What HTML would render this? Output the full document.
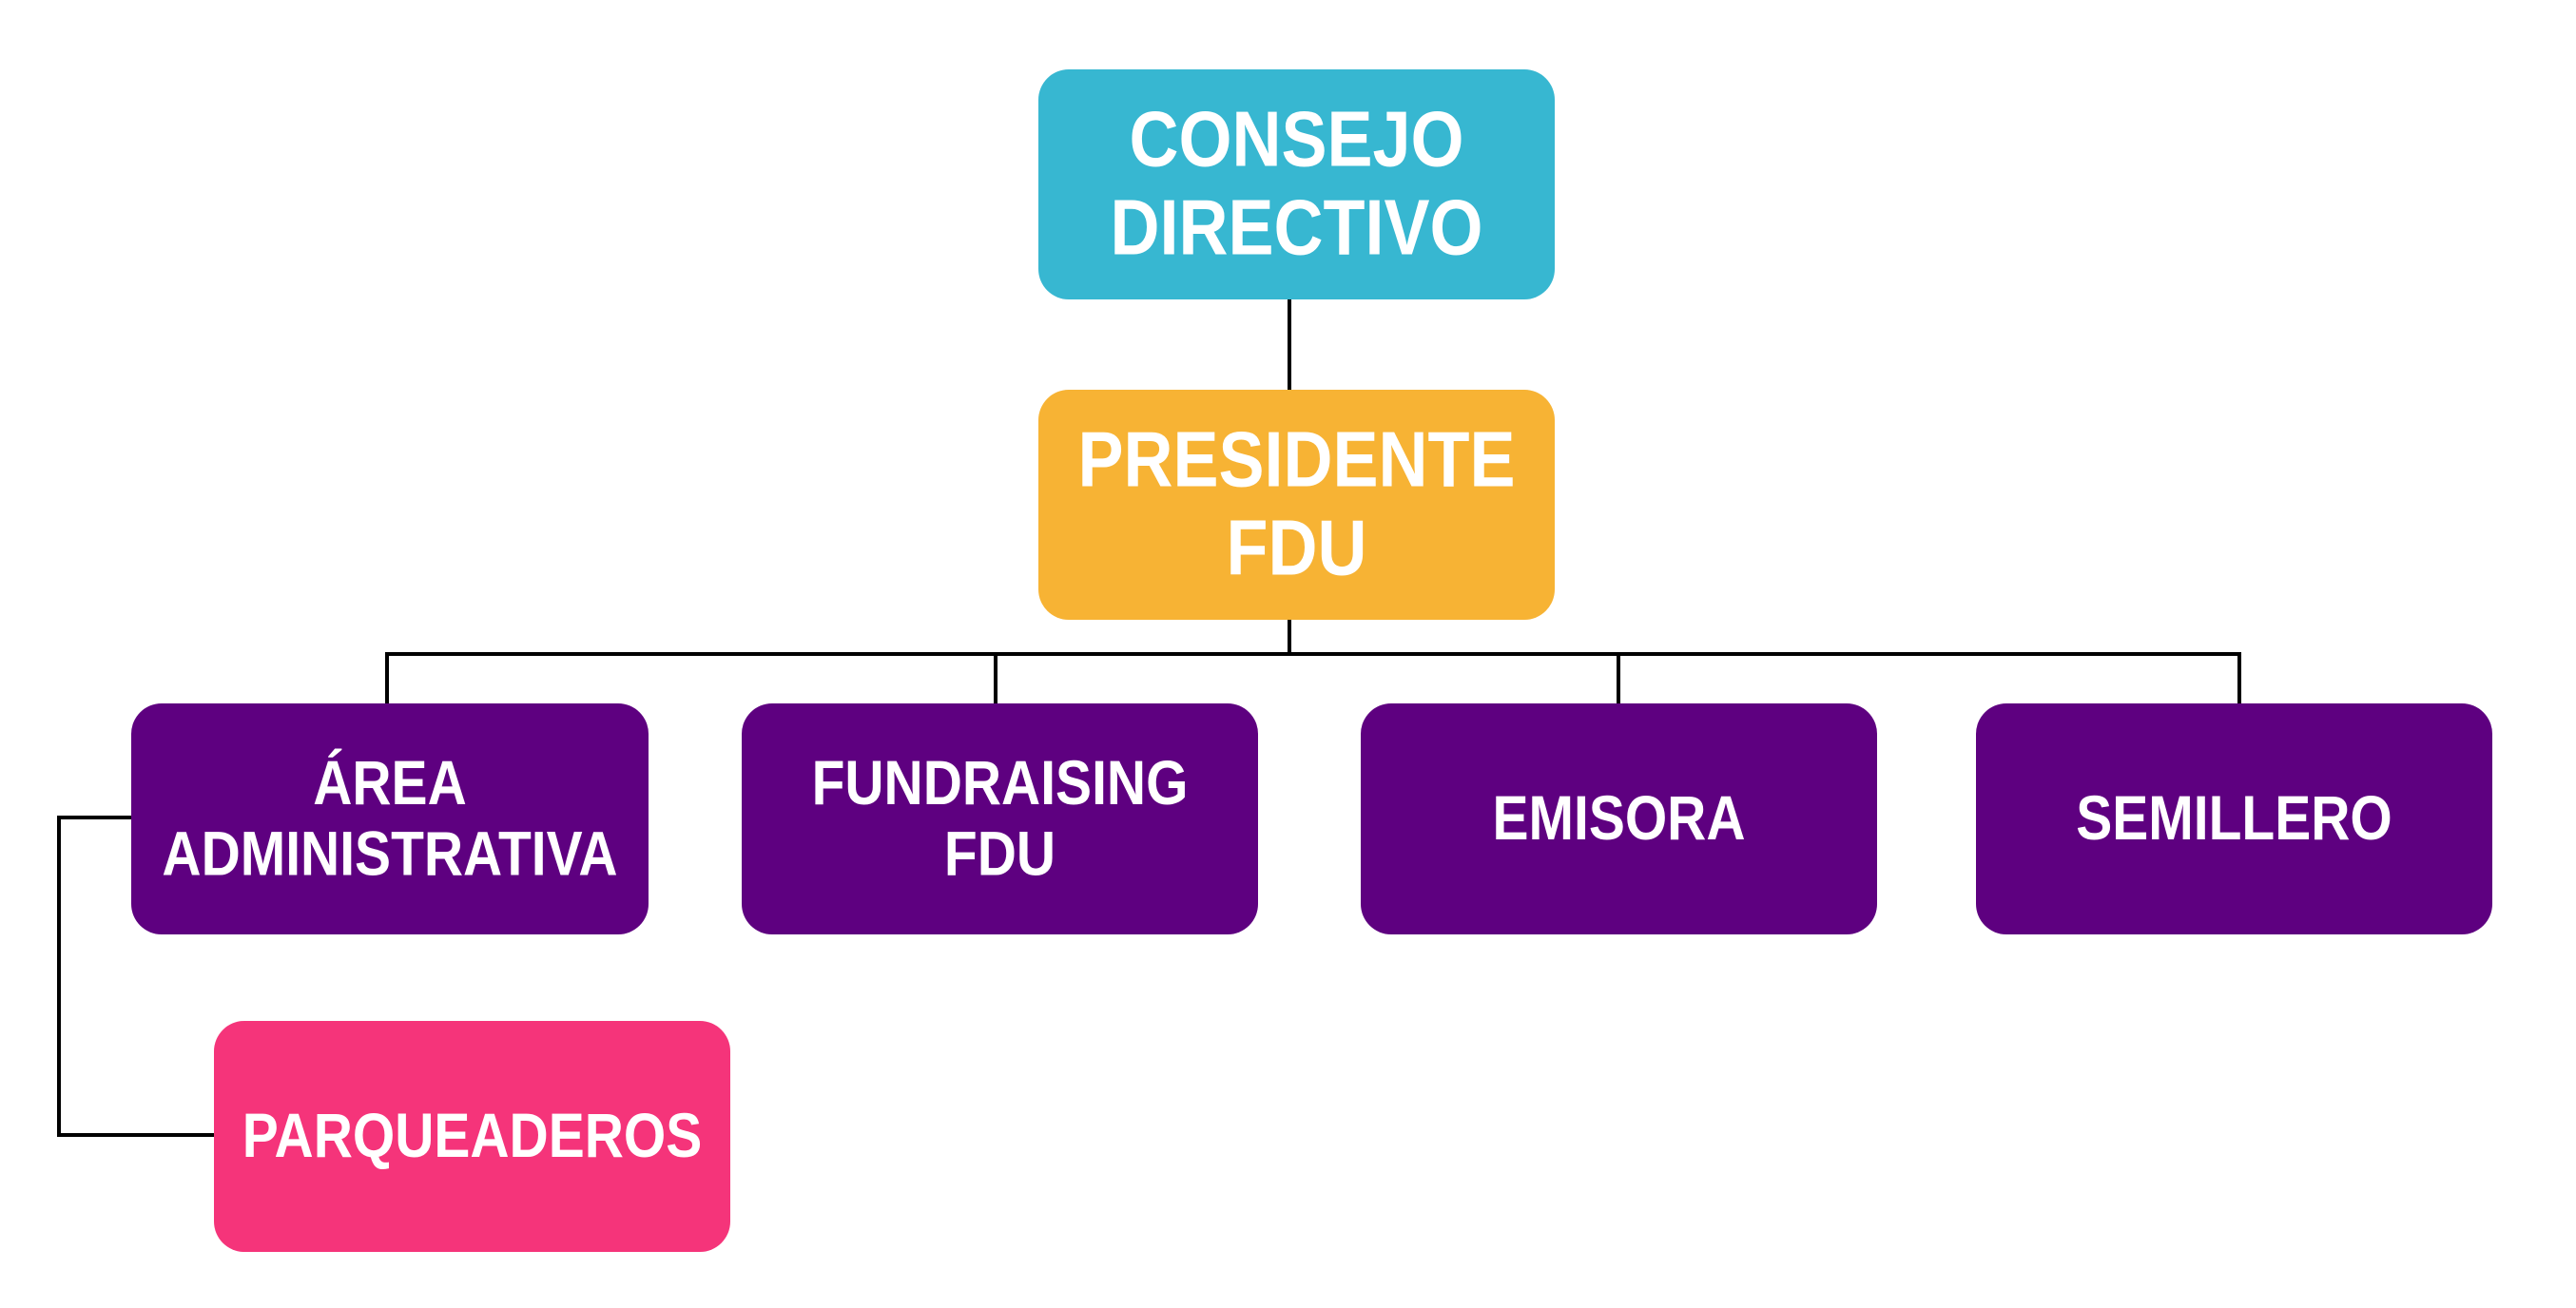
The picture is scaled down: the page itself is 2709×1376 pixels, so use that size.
<!DOCTYPE html>
<html><head><meta charset="utf-8"><style>
body{margin:0;width:2709px;height:1376px;background:#fff;position:relative;overflow:hidden;font-family:"Liberation Sans",sans-serif;}
.b{position:absolute;border-radius:32px;display:flex;align-items:center;justify-content:center;text-align:center;color:#fff;font-weight:bold;}
.b span{display:inline-block;transform:scaleY(1.15);}
.big{font-size:72px;line-height:81px;}
.sm{font-size:57px;line-height:65px;}
.l{position:absolute;background:#000;}
.p{background:#5e0080;}
</style></head><body>
<div class="l" style="left:1354px;top:315px;width:4px;height:96px"></div>
<div class="l" style="left:1354px;top:652px;width:4px;height:37px"></div>
<div class="l" style="left:405px;top:686px;width:1952px;height:4px"></div>
<div class="l" style="left:405px;top:686px;width:4px;height:55px"></div>
<div class="l" style="left:1045px;top:686px;width:4px;height:55px"></div>
<div class="l" style="left:1700px;top:686px;width:4px;height:55px"></div>
<div class="l" style="left:2353px;top:686px;width:4px;height:55px"></div>
<div class="l" style="left:60px;top:858px;width:80px;height:4px"></div>
<div class="l" style="left:60px;top:858px;width:4px;height:338px"></div>
<div class="l" style="left:60px;top:1192px;width:166px;height:4px"></div>

<div class="b big" style="left:1092px;top:73px;width:543px;height:242px;background:#37b7d1"><span>CONSEJO<br>DIRECTIVO</span></div>
<div class="b big" style="left:1092px;top:410px;width:543px;height:242px;background:#f7b334"><span>PRESIDENTE<br>FDU</span></div>
<div class="b sm p" style="left:138px;top:740px;width:544px;height:243px"><span>ÁREA<br>ADMINISTRATIVA</span></div>
<div class="b sm p" style="left:780px;top:740px;width:543px;height:243px"><span>FUNDRAISING<br>FDU</span></div>
<div class="b sm p" style="left:1431px;top:740px;width:543px;height:243px"><span>EMISORA</span></div>
<div class="b sm p" style="left:2078px;top:740px;width:543px;height:243px"><span>SEMILLERO</span></div>
<div class="b sm" style="left:225px;top:1074px;width:543px;height:243px;background:#f5347a"><span>PARQUEADEROS</span></div>
</body></html>
